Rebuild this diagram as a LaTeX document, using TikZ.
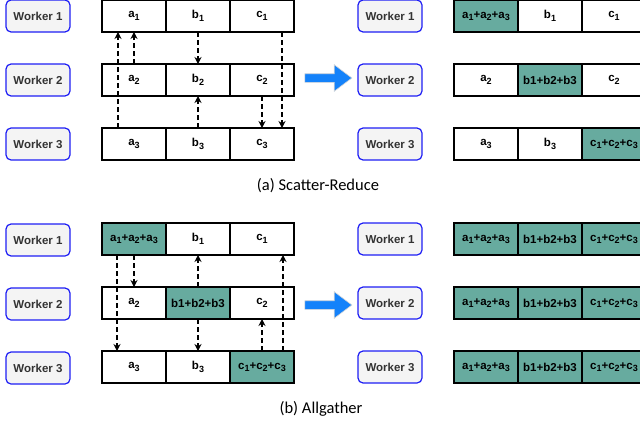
\documentclass[tikz,border=0pt]{standalone}
\usepackage{fontspec}
\setmainfont{Liberation Sans}
\newfontfamily\capfont{Carlito}
\usepackage{tikz}
\usetikzlibrary{arrows.meta,shapes.arrows}

\definecolor{workerblue}{RGB}{30,30,245}
\definecolor{workerfill}{RGB}{244,244,244}
\definecolor{workertext}{RGB}{51,51,51}
\definecolor{sumgreen}{RGB}{103,171,159}
\definecolor{stepblue}{RGB}{20,130,250}
\definecolor{stepedge}{RGB}{215,215,215}

% lowered index digit
\newcommand{\idx}[1]{\raisebox{-0.4ex}{\fontsize{9}{10}\selectfont #1}}

\begin{document}
\begin{tikzpicture}[x=1pt,y=-1pt,
		worker/.style={draw=workerblue,line width=1.2pt,fill=workerfill,rounded corners=5pt,
			minimum width=64pt,minimum height=32pt,inner sep=0pt,text=workertext,
			font=\bfseries\fontsize{11.5}{13}\selectfont},
		cell/.style={draw=black,line width=1.3pt,fill=white,minimum width=64pt,minimum height=32pt,
			inner sep=0pt,outer sep=0pt,font=\bfseries\fontsize{11.5}{13}\selectfont},
		sum/.style={cell,fill=sumgreen},
		pass/.style={dashed,dash pattern=on 5pt off 3pt,line width=1.3pt,-{Stealth[length=7pt,width=7pt]}},
		stepto/.style={shape=single arrow,fill=stepblue,draw=stepedge,line width=0.6pt,inner sep=0pt,
			text height=8pt,text depth=0pt,minimum height=47pt,minimum width=26pt,
			single arrow head extend=9pt,single arrow tip angle=74},
		caption/.style={font=\capfont\fontsize{16.5}{20}\selectfont}]
	\useasboundingbox (0,0) rectangle (640,423);
	\clip (0,0) rectangle (640,423);
	
	% Scatter-Reduce: before
	\node[worker] (sw1) at (38,16) {Worker 1};
	\node[worker] (sw2) at (38,80) {Worker 2};
	\node[worker] (sw3) at (38,144) {Worker 3};
	
	\node[cell] (s1a) at (134,16) {a\idx{1}};
	\node[cell] (s1b) at (198,16) {b\idx{1}};
	\node[cell] (s1c) at (262,16) {c\idx{1}};
	
	\node[cell] (s2a) at (134,80) {a\idx{2}};
	\node[cell] (s2b) at (198,80) {b\idx{2}};
	\node[cell] (s2c) at (262,80) {c\idx{2}};
	
	\node[cell] (s3a) at (134,144) {a\idx{3}};
	\node[cell] (s3b) at (198,144) {b\idx{3}};
	\node[cell] (s3c) at (262,144) {c\idx{3}};
	
	% dashed transfers
	\draw[pass] ([xshift=-16pt]s3a.north) -- ([xshift=-16pt]s1a.south);
	\draw[pass] (s2a.north) -- (s1a.south);
	\draw[pass] (s1b.south) -- (s2b.north);
	\draw[pass] (s3b.north) -- (s2b.south);
	\draw[pass] (s2c.south) -- (s3c.north);
	\draw[pass] ([xshift=20pt]s1c.south) -- ([xshift=20pt]s3c.north);
	
	\node[stepto] (sstep) at (325.5,78) {};
	
	% Scatter-Reduce: after
	\node[worker] (tw1) at (390,16) {Worker 1};
	\node[worker] (tw2) at (390,80) {Worker 2};
	\node[worker] (tw3) at (390,144) {Worker 3};
	
	\node[sum]  (t1a) at (486,16) {a\idx{1}+a\idx{2}+a\idx{3}};
	\node[cell] (t1b) at (550,16) {b\idx{1}};
	\node[cell] (t1c) at (614,16) {c\idx{1}};
	
	\node[cell] (t2a) at (486,80) {a\idx{2}};
	\node[sum]  (t2b) at (550,80) {b1+b2+b3};
	\node[cell] (t2c) at (614,80) {c\idx{2}};
	
	\node[cell] (t3a) at (486,144) {a\idx{3}};
	\node[cell] (t3b) at (550,144) {b\idx{3}};
	\node[sum]  (t3c) at (614,144) {c\idx{1}+c\idx{2}+c\idx{3}};
	
	\node[caption] (capa) at (318,186) {(a) Scatter-Reduce};
	
	% Allgather: before
	\node[worker] (gw1) at (38,240) {Worker 1};
	\node[worker] (gw2) at (38,304) {Worker 2};
	\node[worker] (gw3) at (38,368) {Worker 3};
	
	\node[sum]  (g1a) at (134,239) {a\idx{1}+a\idx{2}+a\idx{3}};
	\node[cell] (g1b) at (198,239) {b\idx{1}};
	\node[cell] (g1c) at (262,239) {c\idx{1}};
	
	\node[cell] (g2a) at (134,303) {a\idx{2}};
	\node[sum]  (g2b) at (198,303) {b1+b2+b3};
	\node[cell] (g2c) at (262,303) {c\idx{2}};
	
	\node[cell] (g3a) at (134,367) {a\idx{3}};
	\node[cell] (g3b) at (198,367) {b\idx{3}};
	\node[sum]  (g3c) at (262,367) {c\idx{1}+c\idx{2}+c\idx{3}};
	
	% dashed transfers
	\draw[pass] ([xshift=-17pt]g1a.south) -- ([xshift=-17pt]g3a.north);
	\draw[pass] (g1a.south) -- (g2a.north);
	\draw[pass] (g2b.north) -- (g1b.south);
	\draw[pass] (g2b.south) -- (g3b.north);
	\draw[pass] (g3c.north) -- (g2c.south);
	\draw[pass] ([xshift=21pt]g3c.north) -- ([xshift=21pt]g1c.south);
	
	\node[stepto] (gstep) at (325.5,305) {};
	
	% Allgather: after
	\node[worker] (hw1) at (390,239) {Worker 1};
	\node[worker] (hw2) at (390,303) {Worker 2};
	\node[worker] (hw3) at (390,367) {Worker 3};
	
	\node[sum] (h1a) at (486,239) {a\idx{1}+a\idx{2}+a\idx{3}};
	\node[sum] (h1b) at (550,239) {b1+b2+b3};
	\node[sum] (h1c) at (614,239) {c\idx{1}+c\idx{2}+c\idx{3}};
	
	\node[sum] (h2a) at (486,303) {a\idx{1}+a\idx{2}+a\idx{3}};
	\node[sum] (h2b) at (550,303) {b1+b2+b3};
	\node[sum] (h2c) at (614,303) {c\idx{1}+c\idx{2}+c\idx{3}};
	
	\node[sum] (h3a) at (486,367) {a\idx{1}+a\idx{2}+a\idx{3}};
	\node[sum] (h3b) at (550,367) {b1+b2+b3};
	\node[sum] (h3c) at (614,367) {c\idx{1}+c\idx{2}+c\idx{3}};
	
	\node[caption] (capb) at (321,409) {(b) Allgather};
\end{tikzpicture}
\end{document}
